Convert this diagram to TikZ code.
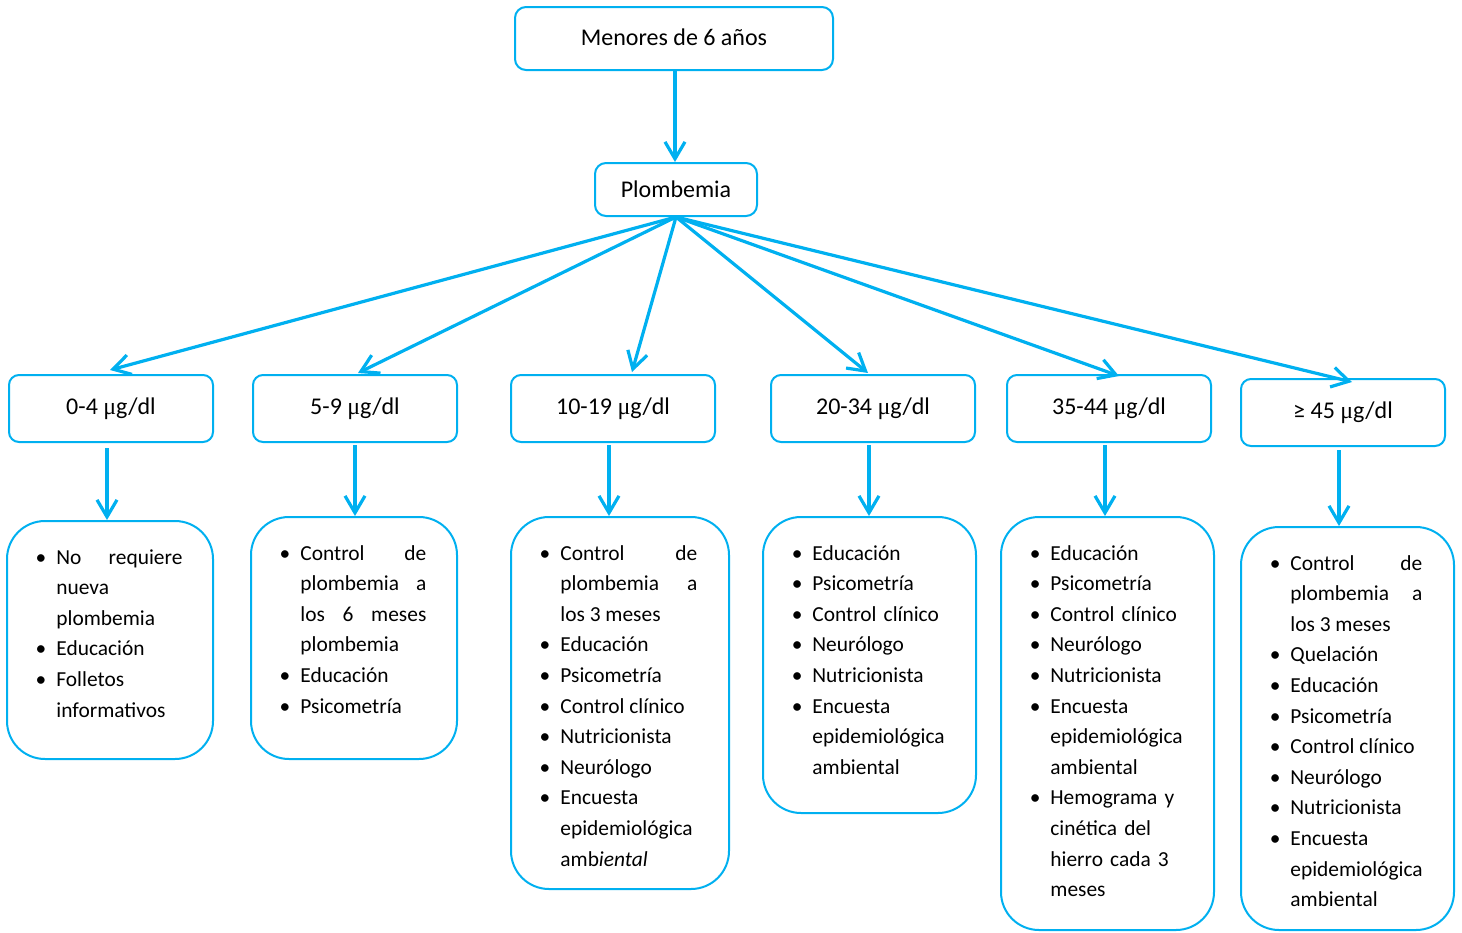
\documentclass[tikz,border=0pt]{standalone}
\usepackage{fontspec}
\setmainfont{Carlito}
\newfontfamily\greekserif{Liberation Serif}
\usetikzlibrary{arrows.meta,calc}
\definecolor{diagblue}{RGB}{0,176,240}
\newcommand\ugdl{{\greekserif μ}g/dl}
% compact bullet list used inside the lower boxes
\newenvironment{dotlist}{%
  \begin{list}{\llap{\textbullet}}{%
    \setlength\leftmargin{0pt}\setlength\labelwidth{0pt}%
    \setlength\labelsep{5pt}\setlength\itemindent{0pt}%
    \setlength\itemsep{0pt}\setlength\parsep{0pt}%
    \setlength\topsep{0pt}\setlength\partopsep{0pt}%
    \setlength\listparindent{0pt}}}%
  {\end{list}}
\hyphenpenalty=10000
\exhyphenpenalty=10000
\tolerance=10000
\hbadness=10000
\begin{document}
\begin{tikzpicture}[x=0.5pt,y=-0.5pt,
  box/.style={draw=diagblue, line width=1pt, fill=white, rectangle,
    inner sep=0pt, font=\fontsize{12pt}{14pt}\selectfont},
  headbox/.style={box, rounded corners=5.5pt},
  levelbox/.style={box, rounded corners=5pt, minimum width=102pt, minimum height=33.5pt},
  listbox/.style={box, rounded corners=19pt},
  listtxt/.style={anchor=north west, inner sep=0pt,
    font=\fontsize{10.7pt}{15.3pt}\selectfont},
  arr/.style={draw=diagblue, line width=1.6pt,
    -{Straight Barb[length=8.5pt,width=10pt]}}]
\useasboundingbox (0,0) rectangle (1462,932);

% top of the tree
\node[headbox, minimum width=159pt, minimum height=31.5pt] (top) at (674,38.5) {\raisebox{1pt}{Menores de 6 años}};
\node[headbox, minimum width=81pt, minimum height=26.5pt] (plom) at (676,189.5) {\raisebox{-1pt}{Plombemia}};

% blood lead levels
\node[levelbox] (b1) at (111,408.5) {0-4 \ugdl};
\node[levelbox] (b2) at (355,408.5) {5-9 \ugdl};
\node[levelbox] (b3) at (613,408.5) {10-19 \ugdl};
\node[levelbox] (b4) at (873,408.5) {20-34 \ugdl};
\node[levelbox] (b5) at (1109,408.5) {35-44 \ugdl};
\node[levelbox] (b6) at (1343,412.5) {≥ 45 \ugdl};

% action boxes
\node[listbox, minimum width=103pt, minimum height=119pt] (l1) at (110,640) {};
\node[listbox, minimum width=103pt, minimum height=121pt] (l2) at (354,638) {};
\node[listbox, minimum width=109pt, minimum height=186pt] (l3) at (620,703) {};
\node[listbox, minimum width=106.5pt, minimum height=148pt] (l4) at (869.5,665) {};
\node[listbox, minimum width=106.5pt, minimum height=206.5pt] (l5) at (1107.5,723.5) {};
\node[listbox, minimum width=106.5pt, minimum height=201.5pt] (l6) at (1347.5,728.5) {};

\node[listtxt, text width=63pt, align=justify] (t1) at (56,533) {%
  \begin{dotlist}
  \item\strut No requiere nueva plombemia
  \item\strut Educación
  \item\strut Folletos informativos
  \end{dotlist}};
\node[listtxt, text width=63pt, align=justify] (t2) at (300,529) {%
  \begin{dotlist}
  \item\strut Control de plombemia a los 6 meses plombemia
  \item\strut Educación
  \item\strut Psicometría
  \end{dotlist}};
\node[listtxt, text width=68.5pt, align=justify] (t3) at (560,529) {%
  \begin{dotlist}
  \item\strut Control de plombemia a los 3 meses
  \item\strut Educación
  \item\strut Psicometría
  \item\strut Control clínico
  \item\strut Nutricionista
  \item\strut Neurólogo
  \item\strut Encuesta epidemiológica amb\textit{iental}
  \end{dotlist}};
\node[listtxt, text width=70pt] (t4) at (812,529) {%
  \raggedright
  \begin{dotlist}
  \item\strut Educación
  \item\strut Psicometría
  \item\strut Control clínico
  \item\strut Neurólogo
  \item\strut Nutricionista
  \item\strut Encuesta epidemiológica ambiental
  \end{dotlist}};
\node[listtxt, text width=70pt] (t5) at (1050,529) {%
  \raggedright
  \begin{dotlist}
  \item\strut Educación
  \item\strut Psicometría
  \item\strut Control clínico
  \item\strut Neurólogo
  \item\strut Nutricionista
  \item\strut Encuesta epidemiológica ambiental
  \item\strut Hemograma y cinética del hierro cada 3 meses
  \end{dotlist}};
\node[listtxt, text width=66pt, align=justify] (t6) at (1290,539) {%
  \begin{dotlist}
  \item\strut Control de plombemia a los 3 meses
  \item\strut Quelación
  \item\strut Educación
  \item\strut Psicometría
  \item\strut Control clínico
  \item\strut Neurólogo
  \item\strut Nutricionista
  \item\strut Encuesta epidemiológica ambiental
  \end{dotlist}};

% connectors
\draw[arr] ($(plom.north |- top.south)+(-0.5pt,0)$) -- ($(plom.north)+(-0.5pt,0)$);

\draw[arr] (plom.south) -- ($(b1.north)+(-0.5pt,2pt)$);
\draw[arr] (plom.south) -- ($(b2.north)+(1.5pt,0.5pt)$);
\draw[arr] (plom.south) -- ($(b3.north)+(9.5pt,1pt)$);
\draw[arr] (plom.south) -- ($(b4.north)+(-2.5pt,0.5pt)$);
\draw[arr] (plom.south) -- ($(b5.north)+(5pt,-1pt)$);
\draw[arr] (plom.south) -- ($(b6.north)+(4.5pt,-2pt)$);

\draw[arr] ($(b1.south)+(-2pt,-2.5pt)$) -- ($(b1.south |- l1.north)+(-2pt,0)$);
\draw[arr] ($(b2.south)+(0pt,-1pt)$) -- ($(b2.south |- l2.north)$);
\draw[arr] ($(b3.south)+(-2pt,-1pt)$) -- ($(b3.south |- l3.north)+(-2pt,0)$);
\draw[arr] ($(b4.south)+(-2pt,-1pt)$) -- ($(b4.south |- l4.north)+(-2pt,0)$);
\draw[arr] ($(b5.south)+(-2pt,-1pt)$) -- ($(b5.south |- l5.north)+(-2pt,0)$);
\draw[arr] ($(b6.south)+(-2pt,-1.5pt)$) -- ($(b6.south |- l6.north)+(-2pt,0)$);
\end{tikzpicture}
\end{document}
